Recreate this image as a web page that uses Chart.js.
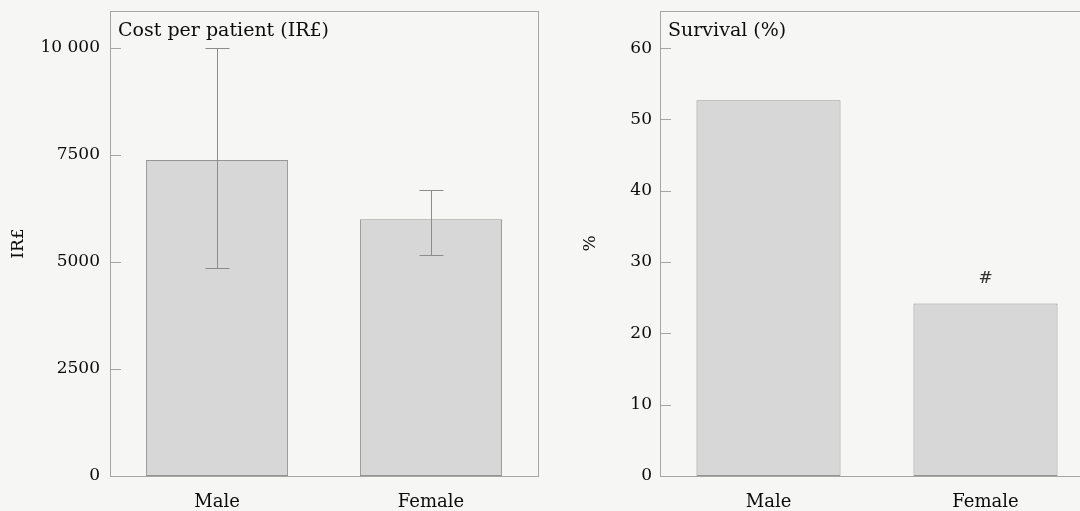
<!DOCTYPE html>
<html>
<head>
<meta charset="utf-8">
<script src="https://cdn.jsdelivr.net/npm/chart.js@4.4.0/dist/chart.umd.min.js"></script>
<style>
  html, body { margin: 0; padding: 0; background: #f6f6f5; overflow: hidden; width: 1080px; height: 511px; }
  #cost { position: absolute; left: 0; top: 0; }
  #survival { position: absolute; left: 560px; top: 0; }
</style>
</head>
<body>
<canvas id="cost" width="550" height="511"></canvas>
<canvas id="survival" width="560" height="511"></canvas>
<script>
// data
const categories = ["Male", "Female"];
const costMean = [7380, 6000];
const costLow = [4860, 5160];
const costHigh = [10000, 6680];
const costTicks = [0, 2500, 5000, 7500, 10000];
const costTickLabels = ["0", "2500", "5000", "7500", "10 000"];
const survival = [52.7, 24.2];
const survivalTicks = [0, 10, 20, 30, 40, 50, 60];
const survivalMarks = ["", "#"];

const textColor = "#0c0c0c";
const serif = "'DejaVu Serif', 'Liberation Serif', serif";
const font = { family: serif, size: 17 };

// box round the plot, ticks pointing inwards, panel title, error bars, marks
const frame = {
  id: "frame",
  afterDatasetsDraw(chart, args, opts) {
    const ctx = chart.ctx;
    const a = chart.chartArea;
    const y = chart.scales.y;
    ctx.save();
    ctx.strokeStyle = "#a5a5a5";
    ctx.lineWidth = 1;
    ctx.strokeRect(Math.round(a.left) + 0.5, Math.round(a.top) + 0.5,
      Math.round(a.right - a.left), Math.round(a.bottom - a.top));
    y.ticks.forEach((t, i) => {
      const py = Math.round(y.getPixelForTick(i)) + 0.5;
      ctx.beginPath();
      ctx.moveTo(a.left, py);
      ctx.lineTo(a.left + 11, py);
      ctx.stroke();
    });

    ctx.fillStyle = textColor;
    ctx.font = "19px " + serif;
    ctx.textAlign = "left";
    ctx.textBaseline = "alphabetic";
    ctx.fillText(opts.text, a.left + 8, a.top + 25);

    const meta = chart.getDatasetMeta(0);
    if (opts.low) {
      ctx.strokeStyle = "#8c8c8c";
      meta.data.forEach((bar, i) => {
        const x = Math.round(bar.x) + 0.5;
        const y1 = Math.round(y.getPixelForValue(opts.low[i])) + 0.5;
        const y2 = Math.round(y.getPixelForValue(opts.high[i])) + 0.5;
        ctx.beginPath();
        ctx.moveTo(x, y1); ctx.lineTo(x, y2);
        ctx.moveTo(x - 12, y1); ctx.lineTo(x + 12, y1);
        ctx.moveTo(x - 12, y2); ctx.lineTo(x + 12, y2);
        ctx.stroke();
      });
    }
    if (opts.marks) {
      ctx.textAlign = "center";
      ctx.fillStyle = "#333";
      ctx.font = "17px " + serif;
      meta.data.forEach((bar, i) => {
        if (opts.marks[i]) ctx.fillText(opts.marks[i], bar.x, bar.y - 20);
      });
    }
    ctx.restore();
  }
};

function makeChart(id, values, max, ticks, labels, yTitle, titlePad, axisWidth, tickPad, padRight, frameOpts) {
  return new Chart(document.getElementById(id), {
    type: "bar",
    data: {
      labels: categories,
      datasets: [{
        data: values,
        backgroundColor: "#d7d7d7",
        borderColor: "#959595",
        borderWidth: 1,
        borderSkipped: false,
        barPercentage: 0.664,
        categoryPercentage: 1
      }]
    },
    options: {
      responsive: false,
      animation: false,
      layout: { autoPadding: false, padding: { top: 11, right: padRight, left: 0, bottom: 0 } },
      plugins: {
        legend: { display: false },
        tooltip: { enabled: false },
        frame: frameOpts
      },
      scales: {
        x: {
          grid: { display: false },
          border: { display: false },
          ticks: { color: textColor, font: { family: serif, size: 18 }, padding: 8 },
          afterFit: s => { s.height = 35; s.paddingLeft = 0; s.paddingRight = 0; }
        },
        y: {
          min: 0,
          max: max,
          afterBuildTicks: s => { s.ticks = ticks.map(v => ({ value: v })); },
          afterFit: s => { s.width = axisWidth; s.paddingTop = 0; s.paddingBottom = 0; },
          grid: { display: false },
          border: { display: false },
          ticks: {
            color: textColor,
            font: font,
            padding: tickPad,
            callback: v => labels[ticks.indexOf(v)]
          },
          title: { display: true, text: yTitle, color: textColor, font: font, padding: { top: titlePad, bottom: 0 } }
        }
      }
    },
    plugins: [frame]
  });
}

makeChart("cost", costMean, 10864, costTicks, costTickLabels, "IR£", 8, 110, 2, 12,
  { text: "Cost per patient (IR£)", low: costLow, high: costHigh });

makeChart("survival", survival, 65.2, survivalTicks, survivalTicks.map(String), "%", 20, 100, 0, 26,
  { text: "Survival (%)", marks: survivalMarks });
</script>
</body>
</html>
